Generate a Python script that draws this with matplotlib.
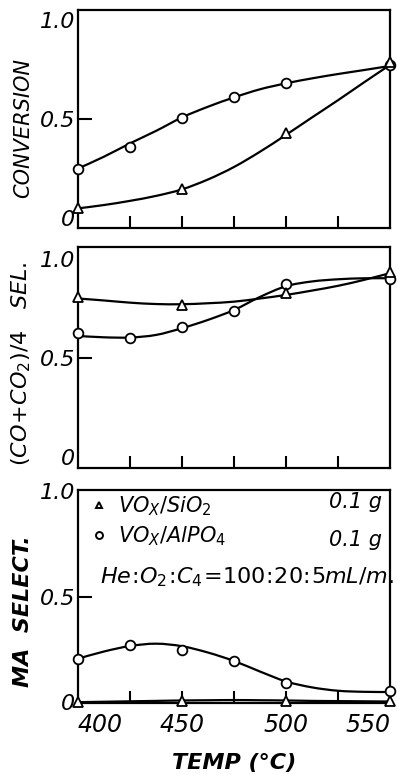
import numpy as np
import matplotlib
matplotlib.use("Agg")
import matplotlib.pyplot as plt
from matplotlib.lines import Line2D
from matplotlib.path import Path
from matplotlib.patches import PathPatch

plt.rcParams['font.family'] = ['DejaVu Sans']
plt.rcParams['mathtext.fontset'] = 'dejavusans'
plt.rcParams['mathtext.default'] = 'it'

# measured points (temp in C)
temp_circ = [400, 425, 450, 475, 500, 550]
temp_tri = [400, 450, 500, 550]

conv_circ = [0.25, 0.36, 0.505, 0.61, 0.68, 0.77]
conv_tri = [0.05, 0.145, 0.43, 0.79]

cox_circ = [0.625, 0.603, 0.655, 0.739, 0.872, 0.897]
cox_tri = [0.81, 0.768, 0.827, 0.936]

ma_circ = [0.206, 0.269, 0.247, 0.195, 0.093, 0.053]
ma_tri = [0.0, 0.005, 0.005, 0.005]

# hand drawn trend lines, read every 12.5 C
temp_fit = [400, 412.5, 425, 437.5, 450, 462.5, 475, 487.5, 500, 512.5, 525, 537.5, 550]
conv_circ_fit = [0.25, 0.31, 0.377, 0.44, 0.508, 0.562, 0.609, 0.65, 0.68, 0.705, 0.727, 0.747, 0.768]
conv_tri_fit = [0.049, 0.066, 0.087, 0.112, 0.145, 0.195, 0.258, 0.335, 0.42, 0.508, 0.595, 0.685, 0.773]
cox_circ_fit = [0.611, 0.604, 0.603, 0.616, 0.65, 0.692, 0.742, 0.808, 0.862, 0.886, 0.897, 0.902, 0.902]
cox_tri_fit = [0.80, 0.79, 0.779, 0.772, 0.771, 0.776, 0.784, 0.80, 0.818, 0.84, 0.864, 0.894, 0.928]
ma_circ_fit = [0.206, 0.24, 0.266, 0.277, 0.265, 0.235, 0.195, 0.145, 0.098, 0.07, 0.054, 0.049, 0.048]
ma_tri_fit = [0.0, 0.002, 0.004, 0.006, 0.008, 0.009, 0.01, 0.009, 0.008, 0.006, 0.005, 0.004, 0.003]

xticks = [400, 425, 450, 475, 500, 525, 550]
xlabels = ['400', '', '450', '', '500', '', '550']


def smooth_line(ax, xs, ys):
    # Catmull-Rom through the read points, drawn as bezier path
    p = np.column_stack([xs, ys]).astype(float)
    verts = [p[0]]
    codes = [Path.MOVETO]
    for i in range(len(p) - 1):
        p0 = p[i - 1] if i > 0 else p[i]
        p3 = p[i + 2] if i + 2 < len(p) else p[i + 1]
        c1 = p[i] + (p[i + 1] - p0) / 6.0
        c2 = p[i + 1] - (p3 - p[i]) / 6.0
        verts += [c1, c2, p[i + 1]]
        codes += [Path.CURVE4] * 3
    ax.add_patch(PathPatch(Path(verts, codes), fill=False, lw=1.6, ec='black', zorder=2))


fig = plt.figure(figsize=(3.97, 7.75), dpi=100)
ax1 = fig.add_axes([0.1965, 0.7058, 0.786, 0.2813])
ax2 = fig.add_axes([0.1965, 0.3961, 0.786, 0.2852])
ax3 = fig.add_axes([0.1965, 0.0929, 0.786, 0.2748])

panels = [
    (ax1, conv_circ, conv_tri, conv_circ_fit, conv_tri_fit, 'CONVERSION', 15, 'normal', (-0.05, 1.05), 0.46),
    (ax2, cox_circ, cox_tri, cox_circ_fit, cox_tri_fit, r'$(CO\!+\!CO_2)/4\ \ \ SEL.$', 16, 'normal', (-0.056, 1.06), 0.47),
    (ax3, ma_circ, ma_tri, ma_circ_fit, ma_tri_fit, 'MA  SELECT.', 16, 'bold', (-0.004, 1.005), 0.43),
]

for ax, yc, yt, fc, ft, lab, lfs, lfw, ylim, ly in panels:
    smooth_line(ax, temp_fit, fc)
    smooth_line(ax, temp_fit, ft)
    ax.plot(temp_circ, yc, 'o', ms=7, mfc='white', mec='black', mew=1.3, zorder=3, clip_on=False)
    ax.plot(temp_tri, yt, '^', ms=7, mfc='white', mec='black', mew=1.3, zorder=3, clip_on=False)
    ax.set_xlim(400, 550)
    ax.set_ylim(*ylim)
    ax.set_xticks(xticks)
    ax.set_yticks([0, 0.5, 1.0])
    ax.set_yticklabels(['0', '0.5', '1.0'], fontsize=16, fontstyle='italic')
    ax.tick_params(axis='y', direction='in', length=10, width=1.5, pad=2)
    ax.tick_params(axis='x', direction='in', length=9, width=1.5, pad=7)
    yt_list = ax.yaxis.get_major_ticks()
    yt_list[0].tick1line.set_visible(False)
    yt_list[2].tick1line.set_visible(False)
    xt_list = ax.xaxis.get_major_ticks()
    xt_list[0].tick1line.set_visible(False)
    xt_list[-1].tick1line.set_visible(False)
    for sp in ax.spines.values():
        sp.set_linewidth(1.6)
    ax.set_ylabel(lab, fontsize=lfs, fontstyle='italic', fontweight=lfw)
    ax.yaxis.set_label_coords(-0.145, ly)
    if ax is ax3:
        ax.set_xticklabels(xlabels, fontsize=17, fontstyle='italic')
    else:
        ax.set_xticklabels([])

tl = ax3.get_xticklabels()
tl[0].set_ha('left')
tl[-1].set_ha('right')
ax3.set_xlabel('TEMP (°C)', fontsize=16, fontstyle='italic', fontweight='bold', labelpad=12)

# legend block
handles = [Line2D([], [], ls='none', marker='^', ms=5, mfc='white', mec='black', mew=1.4),
           Line2D([], [], ls='none', marker='o', ms=5, mfc='white', mec='black', mew=1.4)]
leg = ax3.legend(handles, [r'$VO_X/SiO_2$', r'$VO_X/AlPO_4$'], loc='upper left',
                 frameon=False, fontsize=15, handlelength=0.6, handletextpad=0.6,
                 borderaxespad=0.0, borderpad=0.2, labelspacing=0.3,
                 bbox_to_anchor=(0.035, 1.0))
ax3.text(0.975, 0.945, '0.1 g', transform=ax3.transAxes, ha='right', va='center',
         fontsize=15, fontstyle='italic')
ax3.text(0.975, 0.765, '0.1 g', transform=ax3.transAxes, ha='right', va='center',
         fontsize=15, fontstyle='italic')
ax3.text(0.07, 0.59, r'$He\!:\!O_2\!:\!C_4\!=\!100\!:\!20\!:\!5mL/m.$', transform=ax3.transAxes,
         ha='left', va='center', fontsize=16)

fig.savefig('out.png', dpi=100)
